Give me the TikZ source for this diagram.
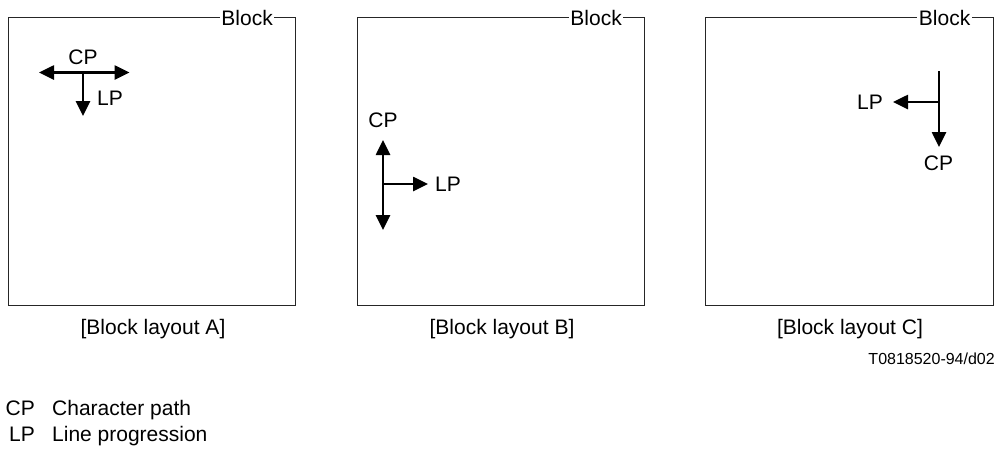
\documentclass[tikz,border=0pt]{standalone}
\usepackage{fontspec}
\setmainfont{Liberation Sans}
\usetikzlibrary{arrows.meta}
\begin{document}
\begin{tikzpicture}[x=1pt,y=-1pt,
  frame/.style={line width=1pt, draw=black!85},
  txt/.style={inner sep=0pt, font=\fontsize{21}{25}\selectfont},
  small/.style={inner sep=0pt, font=\fontsize{16}{19}\selectfont},
  blk/.style={txt, fill=white, inner xsep=1.5pt},
  dir/.style={line width=2.6pt, -{Triangle[length=15pt,width=14pt]}},
  bidir/.style={line width=2.6pt, {Triangle[length=15pt,width=14pt]}-{Triangle[length=15pt,width=14pt]}}]
\useasboundingbox[fill=white] (0,0) rectangle (997,448);

% frames
\draw[frame] (8,17) rectangle (295,305);
\draw[frame] (357,17) rectangle (644,305);
\draw[frame] (705,17) rectangle (993,305);
\node[blk, anchor=base east] (bA) at (274.5,25) {Block};
\node[blk, anchor=base east] (bB) at (623.5,25) {Block};
\node[blk, anchor=base east] (bC) at (972,25) {Block};

% layout A
\coordinate (oA) at (83,72.5);
\coordinate (lA) at (39,72.5);
\coordinate (rA) at (129.5,72.5);
\coordinate (dA) at (83,116);
\draw[bidir] (lA) -- (rA);
\draw[dir] (oA) -- (dA);
\node[txt] (cpA) at (83,57.5) {CP};
\node[txt, anchor=west] (lpA) at (97,98) {LP};

% layout B
\coordinate (uB) at (383,140);
\coordinate (dB) at (383,230);
\coordinate (oB) at (383,184);
\coordinate (rB) at (428,184);
\draw[bidir] (uB) -- (dB);
\draw[dir] (oB) -- (rB);
\node[txt] (cpB) at (383,120) {CP};
\node[txt, anchor=west] (lpB) at (435,184) {LP};

% layout C
\coordinate (tC) at (939,71);
\coordinate (dC) at (939,147);
\coordinate (oC) at (939,102);
\coordinate (lC) at (893,102);
\draw[dir] (tC) -- (dC);
\draw[dir] (oC) -- (lC);
\node[txt] (cpC) at (938.5,163) {CP};
\node[txt, anchor=east] (lpC) at (883,102) {LP};

% captions
\node[txt, anchor=base] (capA) at (153,334.5) {[Block layout A]};
\node[txt, anchor=base] (capB) at (502,334.5) {[Block layout B]};
\node[txt, anchor=base] (capC) at (850,334.5) {[Block layout C]};
\node[small, anchor=base east] (ref) at (995,364) {T0818520-94/d02};

% legend
\node[txt, anchor=base east] (kCP) at (35,415) {CP};
\node[txt, anchor=base west] (vCP) at (52,415) {Character path};
\node[txt, anchor=base east] (kLP) at (35,441.5) {LP};
\node[txt, anchor=base west] (vLP) at (52,441.5) {Line progression};
\end{tikzpicture}
\end{document}
